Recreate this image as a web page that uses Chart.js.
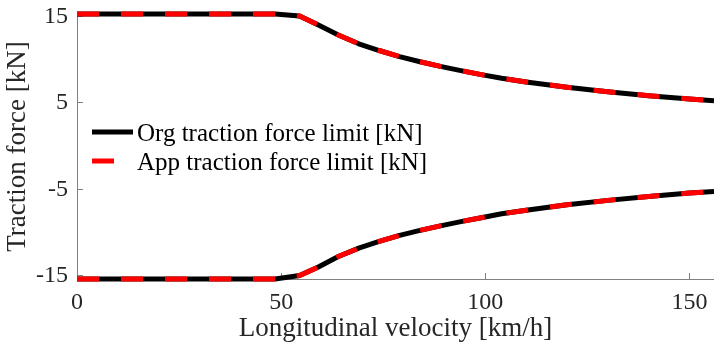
<!DOCTYPE html>
<html>
<head>
<meta charset="utf-8">
<script src="https://cdn.jsdelivr.net/npm/chart.js@4.4.1/dist/chart.umd.min.js"></script>
<style>
  html, body { margin: 0; padding: 0; background: #ffffff; }
  #wrap { width: 714px; height: 351px; }
</style>
</head>
<body>
<div id="wrap"><canvas id="c" width="714" height="351"></canvas></div>
<script>
// ---- data ----
const velocity = [0, 48.5, 54.5, 59, 64, 69, 74, 79, 84, 89, 94, 99, 104, 110, 120, 130, 140, 150, 156];
const orgUpper = [15.3, 15.3, 15.08, 14.05, 12.87, 11.85, 11.07, 10.37, 9.77, 9.23, 8.74, 8.28, 7.86, 7.43, 6.81, 6.29, 5.84, 5.45, 5.24];
const orgLower = [-15.4, -15.4, -15.0, -14.04, -12.8, -11.83, -11.05, -10.35, -9.77, -9.24, -8.75, -8.3, -7.85, -7.43, -6.81, -6.29, -5.84, -5.45, -5.27];
const appUpper = [15.3, 15.3, 15.08, 14.05, 12.87, 11.85, 11.07, 10.37, 9.77, 9.23, 8.74, 8.28, 7.86, 7.43, 6.81, 6.29, 5.84, 5.45, 5.24];
const appLower = [-15.4, -15.4, -15.0, -14.04, -12.8, -11.83, -11.05, -10.35, -9.77, -9.24, -8.75, -8.3, -7.85, -7.43, -6.81, -6.29, -5.84, -5.45, -5.27];
const xTicks = [0, 50, 100, 150];
const yTicks = [-15, -5, 5, 15];
const seriesLabels = ['Org traction force limit [kN]', 'App traction force limit [kN]'];
const xTitle = 'Longitudinal velocity [km/h]';
const yTitle = 'Traction force [kN]';

const pts = (ys) => velocity.map((v, i) => ({ x: v, y: ys[i] }));
const FONT = "'Liberation Serif', 'Times New Roman', serif";
const AXIS = '#808080';
const TEXT = '#262626';

const redStyle = { borderColor: '#ff0000', borderWidth: 5, borderDash: [22, 22], borderCapStyle: 'butt', pointRadius: 0, tension: 0, clip: false, fill: false };
const blackStyle = { borderColor: '#000000', borderWidth: 5, borderCapStyle: 'butt', borderJoinStyle: 'round', pointRadius: 0, tension: 0, clip: false, fill: false };

const legendPlugin = {
  id: 'matlabLegend',
  afterDatasetsDraw(chart) {
    const ctx = chart.ctx;
    ctx.save();
    ctx.font = "25px " + FONT;
    ctx.fillStyle = '#000000';
    ctx.textBaseline = 'alphabetic';
    ctx.textAlign = 'left';
    ctx.lineCap = 'butt';
    ctx.lineWidth = 5;
    ctx.strokeStyle = '#000000';
    ctx.beginPath(); ctx.moveTo(92, 132); ctx.lineTo(133, 132); ctx.stroke();
    ctx.fillText(seriesLabels[0], 137, 141);
    ctx.strokeStyle = '#ff0000';
    ctx.beginPath(); ctx.moveTo(92, 161); ctx.lineTo(114, 161); ctx.stroke();
    ctx.fillText(seriesLabels[1], 137, 170);
    ctx.restore();
  }
};

new Chart(document.getElementById('c'), {
  type: 'line',
  data: {
    datasets: [
      Object.assign({ label: seriesLabels[1], data: pts(appUpper) }, redStyle),
      Object.assign({ label: seriesLabels[1] + ' (lower)', data: pts(appLower) }, redStyle),
      Object.assign({ label: seriesLabels[0], data: pts(orgUpper) }, blackStyle),
      Object.assign({ label: seriesLabels[0] + ' (lower)', data: pts(orgLower) }, blackStyle)
    ]
  },
  options: {
    responsive: false,
    animation: false,
    devicePixelRatio: 1,
    layout: { padding: { top: 14, right: 0, left: 0, bottom: 0 } },
    plugins: { legend: { display: false }, tooltip: { enabled: false } },
    scales: {
      x: {
        type: 'linear',
        min: 0, max: 156,
        afterBuildTicks: (s) => { s.ticks = xTicks.map(v => ({ value: v })); },
        afterFit: (s) => { s.height = 72; s.paddingLeft = 0; s.paddingRight = 0; },
        ticks: { font: { family: FONT, size: 24 }, color: TEXT, padding: 15, maxRotation: 0 },
        grid: { drawOnChartArea: false, drawTicks: true, tickLength: -6, color: AXIS },
        border: { display: true, color: AXIS, width: 1 },
        title: { display: true, text: xTitle, font: { family: FONT, size: 27 }, color: TEXT, padding: { top: 0, bottom: 6 } }
      },
      y: {
        type: 'linear',
        min: -15.4, max: 15.3,
        afterBuildTicks: (s) => { s.ticks = yTicks.map(v => ({ value: v })); },
        afterFit: (s) => { s.width = 77; s.paddingTop = 0; s.paddingBottom = 0; },
        ticks: { font: { family: FONT, size: 24 }, color: TEXT, padding: 15 },
        grid: { drawOnChartArea: false, drawTicks: true, tickLength: -6, color: AXIS },
        border: { display: true, color: AXIS, width: 1 },
        title: { display: true, text: yTitle, font: { family: FONT, size: 27 }, color: TEXT, padding: { top: 2, bottom: 0 } }
      }
    }
  },
  plugins: [legendPlugin]
});
</script>
</body>
</html>
